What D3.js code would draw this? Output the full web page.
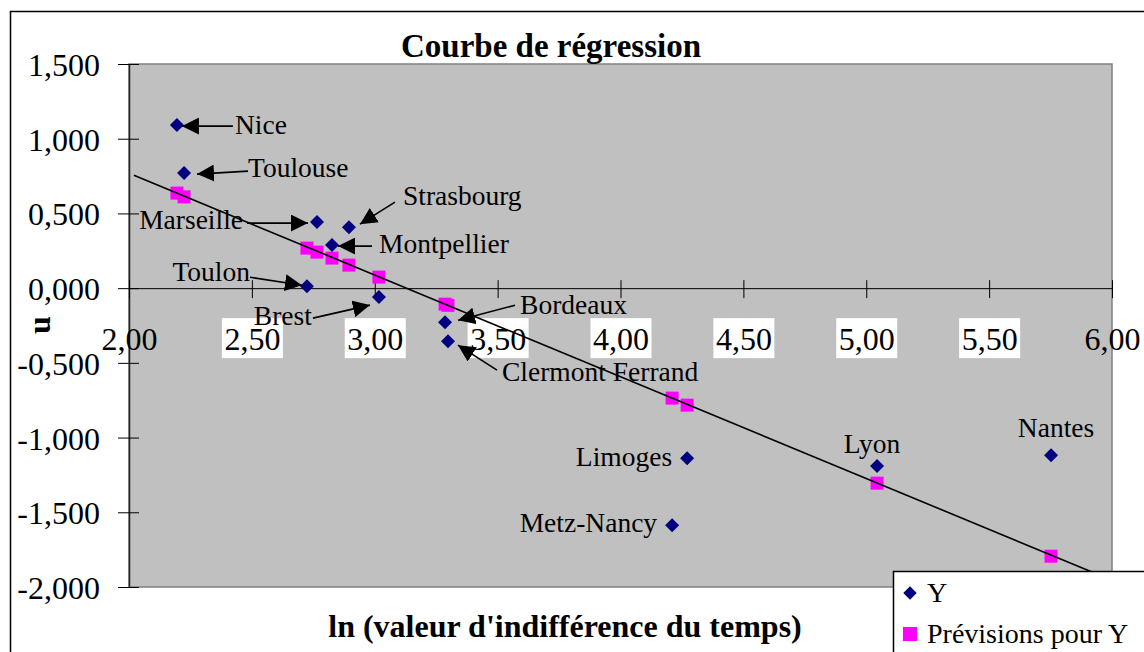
<!DOCTYPE html>
<html>
<head>
<meta charset="utf-8">
<script src="https://cdn.jsdelivr.net/npm/d3@7"></script>
<style>
  body { margin: 0; background: #fff; }
  svg text { font-family: "Liberation Serif", "Times New Roman", serif; fill: #000; }
</style>
</head>
<body>
<svg width="1144" height="652"></svg>
<script>
var cities = ["Nice", "Toulouse", "Marseille", "Strasbourg", "Montpellier", "Toulon", "Brest",
              "Bordeaux", "Clermont Ferrand", "Limoges", "Metz-Nancy", "Lyon", "Nantes"];
var lnTime = [2.195, 2.224, 2.765, 2.895, 2.826, 2.724, 3.017, 3.286, 3.298, 4.271, 4.210, 5.044, 5.752];
var yValues = [1.091, 0.770, 0.442, 0.408, 0.288, 0.013, -0.060, -0.228, -0.355, -1.138, -1.586, -1.191, -1.118];
var predicted = [0.636, 0.611, 0.241, 0.154, 0.201, 0.268, 0.074, -0.107, -0.115, -0.783, -0.736, -1.305, -1.794];
var trendX = [2.02, 6.0];
var trendY = [0.755, -1.955];
var xTicks = [2, 2.5, 3, 3.5, 4, 4.5, 5, 5.5, 6];
var yTicks = [1.5, 1, 0.5, 0, -0.5, -1, -1.5, -2];

// where each city label sits, in pixels from its point; arrow = [x1, y1, x2, y2]
var callouts = {
  "Nice":             {tx: 58,  ty: 9,   anchor: "start",  arrow: [56, 1, 5, 1]},
  "Toulouse":         {tx: 64,  ty: 4,   anchor: "start",  arrow: [64, -2, 13, 1]},
  "Marseille":        {tx: -74, ty: 7,   anchor: "end",    arrow: [-70, 1, -9, 1]},
  "Strasbourg":       {tx: 54,  ty: -22, anchor: "start",  arrow: [46, -25, 11, -3]},
  "Montpellier":      {tx: 47,  ty: 8,   anchor: "start",  arrow: [40, 1, 6, 1]},
  "Toulon":           {tx: -57, ty: -5,  anchor: "end",    arrow: [-57, -9, -5, -1]},
  "Brest":            {tx: -67, ty: 28,  anchor: "end",    arrow: [-66, 21, -9, 8]},
  "Bordeaux":         {tx: 75,  ty: -8,  anchor: "start",  arrow: [70, -17, 13, -2]},
  "Clermont Ferrand": {tx: 54,  ty: 40,  anchor: "start",  arrow: [49, 29, 10, 4]},
  "Limoges":          {tx: -15, ty: 8,   anchor: "end"},
  "Metz-Nancy":       {tx: -15, ty: 7,   anchor: "end"},
  "Lyon":             {tx: -5,  ty: -13, anchor: "middle"},
  "Nantes":           {tx: 5,   ty: -18, anchor: "middle"}
};

var svg = d3.select("svg");
var plot = {left: 129, right: 1112, top: 64, bottom: 587};

var fr = d3.formatLocale({decimal: ",", thousands: ".", grouping: [3], currency: ["", ""], minus: "-"});
var fmtX = fr.format(".2f");
var fmtY = fr.format(".3f");

var x = d3.scaleLinear().domain([2, 6]).range([plot.left, plot.right]);
var y = d3.scaleLinear().domain([-2, 1.5]).range([plot.bottom, plot.top]);

// chart frame
svg.append("rect")
    .attr("x", 10.5).attr("y", 11.5)
    .attr("width", 1300).attr("height", 800)
    .attr("fill", "#fff").attr("stroke", "#000").attr("stroke-width", 1.5);

svg.append("rect")
    .attr("x", plot.left).attr("y", plot.top)
    .attr("width", plot.right - plot.left).attr("height", plot.bottom - plot.top)
    .attr("fill", "#c0c0c0").attr("stroke", "#808080").attr("stroke-width", 1.5);

svg.append("defs").append("marker")
    .attr("id", "head")
    .attr("markerUnits", "userSpaceOnUse")
    .attr("viewBox", "0 0 17 17")
    .attr("markerWidth", 17).attr("markerHeight", 17)
    .attr("refX", 17).attr("refY", 8.5)
    .attr("orient", "auto")
  .append("path")
    .attr("d", "M0,0L17,8.5L0,17Z")
    .attr("fill", "#000");

// y axis
var yAxis = svg.append("g")
    .attr("transform", "translate(" + plot.left + ",0)")
    .call(d3.axisLeft(y).tickValues(yTicks).tickFormat(fmtY).tickSize(11).tickSizeOuter(0).tickPadding(18));
yAxis.attr("font-size", 32).attr("font-family", null);
yAxis.select(".domain").attr("stroke", "#222").attr("stroke-width", 1.5);
yAxis.selectAll(".tick line").attr("x1", 10).attr("stroke", "#000");
yAxis.selectAll(".tick text").attr("dy", "0.36em");

// x axis, crossing at 0
var xAxis = svg.append("g")
    .attr("transform", "translate(0," + y(0) + ")")
    .call(d3.axisBottom(x).tickValues(xTicks).tickFormat(fmtX).tickSize(10).tickSizeOuter(0));
xAxis.attr("font-size", 32).attr("font-family", null);
xAxis.select(".domain").attr("stroke", "#000");
xAxis.selectAll(".tick line").attr("y1", -8).attr("stroke", "#000");
xAxis.selectAll(".tick")
    .filter(function(d, i) { return i > 0 && i < xTicks.length - 1; })
    .insert("rect", "text")
    .attr("x", -30.5).attr("y", 30)
    .attr("width", 61).attr("height", 40)
    .attr("fill", "#fff");
xAxis.selectAll(".tick text").attr("y", 62).attr("dy", 0);

var points = cities.map(function(c, i) {
  return {city: c, x: lnTime[i], y: yValues[i], p: predicted[i]};
});

// Prévisions pour Y
svg.append("g").selectAll("path")
    .data(points)
  .enter().append("path")
    .attr("transform", function(d) { return "translate(" + x(d.x) + "," + y(d.p) + ")"; })
    .attr("d", d3.symbol(d3.symbolSquare, 169))
    .attr("fill", "#ff00ff");

// Y
svg.append("g").selectAll("path")
    .data(points)
  .enter().append("path")
    .attr("transform", function(d) { return "translate(" + x(d.x) + "," + y(d.y) + ") rotate(45)"; })
    .attr("d", d3.symbol(d3.symbolSquare, 98))
    .attr("fill", "#000080");

// regression line
svg.append("path")
    .datum(d3.zip(trendX, trendY))
    .attr("d", d3.line().x(function(d) { return x(d[0]); }).y(function(d) { return y(d[1]); }))
    .attr("fill", "none")
    .attr("stroke", "#000")
    .attr("stroke-width", 1.6);

// city labels and arrows
var lab = svg.append("g").selectAll("g")
    .data(points)
  .enter().append("g")
    .attr("transform", function(d) { return "translate(" + x(d.x) + "," + y(d.y) + ")"; });

lab.filter(function(d) { return callouts[d.city].arrow; })
  .append("line")
    .attr("x1", function(d) { return callouts[d.city].arrow[0]; })
    .attr("y1", function(d) { return callouts[d.city].arrow[1]; })
    .attr("x2", function(d) { return callouts[d.city].arrow[2]; })
    .attr("y2", function(d) { return callouts[d.city].arrow[3]; })
    .attr("stroke", "#000")
    .attr("stroke-width", 1.6)
    .attr("marker-end", "url(#head)");

lab.append("text")
    .attr("x", function(d) { return callouts[d.city].tx; })
    .attr("y", function(d) { return callouts[d.city].ty; })
    .attr("text-anchor", function(d) { return callouts[d.city].anchor; })
    .attr("font-size", 27.5)
    .text(function(d) { return d.city; });

// titles
svg.append("text")
    .attr("x", 551).attr("y", 57)
    .attr("text-anchor", "middle")
    .attr("font-size", 33).attr("font-weight", "bold")
    .text("Courbe de régression");

svg.append("text")
    .attr("x", 565).attr("y", 637)
    .attr("text-anchor", "middle")
    .attr("font-size", 32).attr("font-weight", "bold")
    .text("ln (valeur d'indifférence du temps)");

svg.append("text")
    .attr("transform", "translate(50,325) rotate(-90)")
    .attr("text-anchor", "middle")
    .attr("font-size", 32).attr("font-weight", "bold")
    .text("u");

// legend
var legend = svg.append("g").attr("transform", "translate(893,571)");
legend.append("rect")
    .attr("x", 0.5).attr("y", 0.5)
    .attr("width", 400).attr("height", 200)
    .attr("fill", "#fff").attr("stroke", "#000").attr("stroke-width", 1.5);
legend.append("path")
    .attr("transform", "translate(17,22) rotate(45)")
    .attr("d", d3.symbol(d3.symbolSquare, 90))
    .attr("fill", "#000080");
legend.append("text")
    .attr("x", 34).attr("y", 31)
    .attr("font-size", 28)
    .text("Y");
legend.append("path")
    .attr("transform", "translate(17,63)")
    .attr("d", d3.symbol(d3.symbolSquare, 200))
    .attr("fill", "#ff00ff");
legend.append("text")
    .attr("x", 34).attr("y", 72)
    .attr("font-size", 28)
    .text("Prévisions pour Y");
</script>
</body>
</html>
